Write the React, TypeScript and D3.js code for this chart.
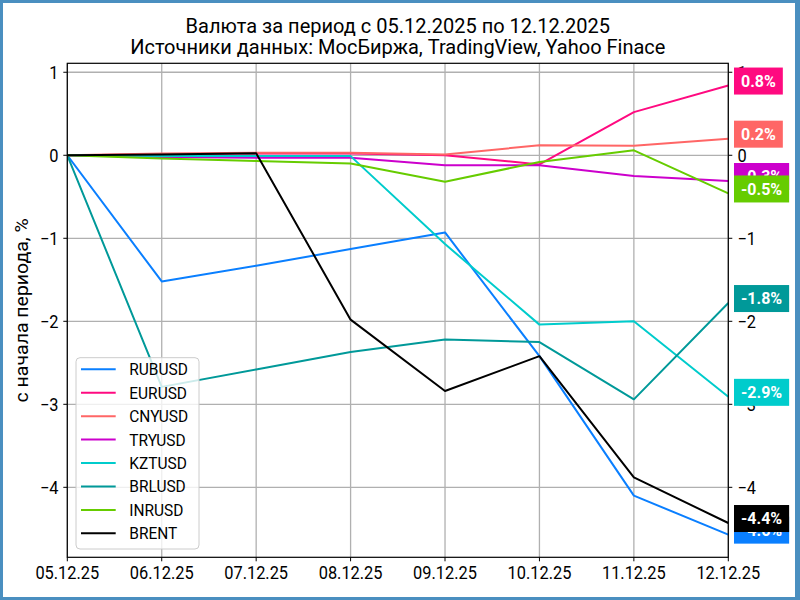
import React from "react";
import * as d3 from "d3";

const dates = ["05.12.25", "06.12.25", "07.12.25", "08.12.25", "09.12.25", "10.12.25", "11.12.25", "12.12.25"];
const seriesNames = ["RUBUSD", "EURUSD", "CNYUSD", "TRYUSD", "KZTUSD", "BRLUSD", "INRUSD", "BRENT"];
const seriesColors = ["#0a7fff", "#ff0a80", "#ff6666", "#cc00cc", "#00cccc", "#009999", "#66cc00", "#000000"];
const RUBUSD = [0, -1.52, -1.33, -1.13, -0.93, -2.42, -4.1, -4.57];
const EURUSD = [0, 0.01, 0.02, 0.02, 0.0, -0.11, 0.52, 0.84];
const CNYUSD = [0, 0.02, 0.03, 0.03, 0.01, 0.12, 0.115, 0.2];
const TRYUSD = [0, -0.02, -0.03, -0.03, -0.12, -0.12, -0.25, -0.31];
const KZTUSD = [0, -0.01, -0.01, -0.01, -1.07, -2.04, -2.0, -2.91];
const BRLUSD = [0, -2.79, -2.58, -2.37, -2.22, -2.25, -2.94, -1.78];
const INRUSD = [0, -0.04, -0.07, -0.1, -0.32, -0.08, 0.06, -0.46];
const BRENT = [0, 0.01, 0.025, -1.98, -2.84, -2.42, -3.88, -4.43];
const seriesValues = [RUBUSD, EURUSD, CNYUSD, TRYUSD, KZTUSD, BRLUSD, INRUSD, BRENT];
const yTicks = [1, 0, -1, -2, -3, -4];
const titleLines = ["Валюта за период с 05.12.2025 по 12.12.2025", "Источники данных: МосБиржа, TradingView, Yahoo Finace"];
const yLabel = "с начала периода, %";

const W = 800, H = 600;
const L = 67.3, R = 728.3, T = 63.3, B = 557.3;
const SX = 0.91;
const FONT = "Roboto, sans-serif";

let canvasCtx: CanvasRenderingContext2D | null = null;
function measure(text: string, font: string) {
  if (!canvasCtx) canvasCtx = document.createElement("canvas").getContext("2d");
  canvasCtx!.font = font;
  return canvasCtx!.measureText(text).width;
}

function Txt({ x, y, children, anchor = "start", size = 18, weight = "normal", fill = "#000", sx = SX }: any) {
  return (
    <text
      transform={`translate(${x},${y}) scale(${sx},1)`}
      textAnchor={anchor}
      fontSize={size}
      fontWeight={weight}
      fill={fill}
      fontFamily={FONT}
    >
      {children}
    </text>
  );
}

const fmtMinus = (v: number) => (v < 0 ? "\u2212" + Math.abs(v) : String(v));

export default function App() {
  const x = d3.scalePoint<string>().domain(dates).range([L, R]);
  const y = d3.scaleLinear().domain([-4.843, 1.108]).range([B, T]);
  const line = d3
    .line<number>()
    .x((_, i) => x(dates[i])!)
    .y((d) => y(d));

  const labelFont = "bold 16px Roboto";
  const lastIdx = dates.length - 1;

  return (
    <div style={{ width: W, height: H, position: "absolute", left: 0, top: 0 }}>
      <svg width={W} height={H} style={{ display: "block" }}>
        <rect x={0} y={0} width={W} height={H} fill="#fff" />
        {/* grid */}
        {dates.map((d) => (
          <line key={"gx" + d} x1={x(d)} x2={x(d)} y1={T} y2={B} stroke="#b0b0b0" strokeWidth={1.3} />
        ))}
        {yTicks.map((t) => (
          <line key={"gy" + t} x1={L} x2={R} y1={y(t)} y2={y(t)} stroke="#b0b0b0" strokeWidth={1.3} />
        ))}
        {/* series */}
        <g clipPath="url(#clipPlot)">
          {seriesValues.map((vals, i) => (
            <path key={seriesNames[i]} d={line(vals)!} fill="none" stroke={seriesColors[i]} strokeWidth={2} strokeLinejoin="round" />
          ))}
        </g>
        <defs>
          <clipPath id="clipPlot">
            <rect x={L} y={T} width={R - L} height={B - T} />
          </clipPath>
        </defs>
        {/* spines */}
        <rect x={L} y={T} width={R - L} height={B - T} fill="none" stroke="#000" strokeWidth={1.2} />
        {/* x ticks */}
        {dates.map((d) => (
          <g key={"xt" + d}>
            <line x1={x(d)} x2={x(d)} y1={B} y2={B + 4} stroke="#000" strokeWidth={1} />
            <Txt x={x(d)} y={578.7} anchor="middle">{d}</Txt>
          </g>
        ))}
        {/* y ticks left and right */}
        {yTicks.map((t) => (
          <g key={"yt" + t}>
            <line x1={L - 4} x2={L} y1={y(t)} y2={y(t)} stroke="#000" strokeWidth={1} />
            <Txt x={58.5} y={y(t) + 6.4} anchor="end">{fmtMinus(t)}</Txt>
            <line x1={R} x2={R + 4} y1={y(t)} y2={y(t)} stroke="#000" strokeWidth={1} />
            <Txt x={737.5} y={y(t) + 6.4} anchor="start">{fmtMinus(t)}</Txt>
          </g>
        ))}
        {/* y label */}
        <text
          transform={`translate(28.3,${(T + B) / 2}) rotate(-90) scale(1,${SX})`}
          textAnchor="middle"
          fontSize={19.5}
          fontFamily={FONT}
          fill="#000"
        >
          {yLabel}
        </text>
        {/* title */}
        <Txt x={(L + R) / 2} y={33.3} anchor="middle" size={20} sx={1}>{titleLines[0]}</Txt>
        <Txt x={(L + R) / 2} y={54.3} anchor="middle" size={20} sx={1}>{titleLines[1]}</Txt>
        {/* legend */}
        <g>
          <rect x={76} y={357.7} width={123} height={191.3} rx={4} fill="#fff" fillOpacity={0.8} stroke="#cccccc" strokeWidth={1} />
          {seriesNames.map((n, i) => {
            const ry = 369.3 + i * 23.43;
            return (
              <g key={"lg" + n}>
                <line x1={81} x2={115.7} y1={ry} y2={ry} stroke={seriesColors[i]} strokeWidth={2} />
                <Txt x={129.3} y={ry + 6} size={17}>{n}</Txt>
              </g>
            );
          })}
        </g>
        {/* end labels */}
        {seriesValues.map((vals, i) => {
          const v = vals[lastIdx];
          const label = (v < 0 ? "-" : "") + Math.abs(v).toFixed(1) + "%";
          const tw = measure(label, labelFont);
          const cy = y(v) - 4.5;
          return (
            <g key={"lb" + seriesNames[i]}>
              <rect x={734} y={cy - 13.5} width={tw + 14} height={27} fill={seriesColors[i]} />
              <text x={741} y={cy + 5.6} fontSize={16} fontWeight="bold" fill="#fff" fontFamily={FONT}>{label}</text>
            </g>
          );
        })}
        {/* outer border */}
        <rect x={1.5} y={1.5} width={W - 3} height={H - 3} fill="none" stroke="#4a8fc0" strokeWidth={3} />
        <rect x={795} y={0} width={5} height={H} fill="#4a8fc0" />
      </svg>
    </div>
  );
}
